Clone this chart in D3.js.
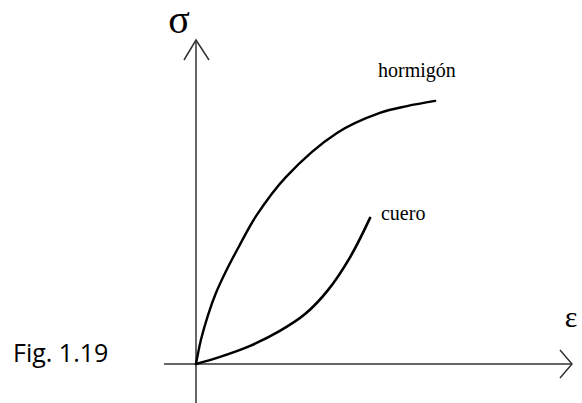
<!DOCTYPE html>
<html>
<head>
<meta charset="utf-8">
<script src="https://cdn.jsdelivr.net/npm/d3@7"></script>
<style>
  body { margin: 0; background: white; }
</style>
</head>
<body>
<div id="container"></div>
<script>
// curve readings (strain / stress in arbitrary units)
let hormigonStrain = [0, 0.13, 0.32, 0.53, 0.80, 1.12, 1.60, 2.39, 3.75, 4.89, 5.61, 6.36];
let hormigonStress = [0, 0.74, 1.51, 2.19, 2.87, 3.58, 4.57, 5.77, 7.13, 7.75, 7.96, 8.12];
let cueroStrain = [0, 0.64, 1.44, 2.23, 2.90, 3.51, 4.10, 4.63];
let cueroStress = [0, 0.22, 0.56, 1.02, 1.54, 2.28, 3.30, 4.51];
let curveNames = ["hormigón", "cuero"];

let w = 582;
let h = 403;

let viz = d3.select("#container")
  .append("svg")
    .attr("width", w)
    .attr("height", h)
    .style("background-color", "white")
;

let xScale = d3.scaleLinear().domain([0, 10]).range([196, 572]);
let yScale = d3.scaleLinear().domain([0, 10]).range([364, 40]);

// axes
let axisColor = "#333";
viz.append("line")
  .attr("x1", xScale(-0.85)).attr("y1", yScale(0))
  .attr("x2", xScale(10)).attr("y2", yScale(0))
  .attr("stroke", axisColor).attr("stroke-width", 1.5);
viz.append("path")
  .attr("d", "M" + (xScale(10) - 12) + "," + (yScale(0) - 14) + "L" + xScale(10) + "," + yScale(0) + "L" + (xScale(10) - 12) + "," + (yScale(0) + 14))
  .attr("fill", "none").attr("stroke", axisColor).attr("stroke-width", 1.5);

viz.append("line")
  .attr("x1", xScale(0)).attr("y1", yScale(-1.2))
  .attr("x2", xScale(0)).attr("y2", yScale(10))
  .attr("stroke", axisColor).attr("stroke-width", 1.5);
viz.append("path")
  .attr("d", "M" + (xScale(0) - 12) + "," + (yScale(10) + 20) + "L" + xScale(0) + "," + yScale(10) + "L" + (xScale(0) + 13) + "," + (yScale(10) + 20))
  .attr("fill", "none").attr("stroke", axisColor).attr("stroke-width", 1.5);

// curves
let line = d3.line()
  .x(function(d){ return xScale(d[0]); })
  .y(function(d){ return yScale(d[1]); })
  .curve(d3.curveCatmullRom.alpha(0.5));

let hormigon = hormigonStrain.map(function(d, i){ return [d, hormigonStress[i]]; });
let cuero = cueroStrain.map(function(d, i){ return [d, cueroStress[i]]; });

viz.append("path")
  .attr("d", line(hormigon))
  .attr("fill", "none").attr("stroke", "black").attr("stroke-width", 2.4)
  .attr("stroke-linecap", "round");
viz.append("path")
  .attr("d", line(cuero))
  .attr("fill", "none").attr("stroke", "black").attr("stroke-width", 2.6)
  .attr("stroke-linecap", "round");

// labels
viz.append("text")
  .text(curveNames[0])
  .attr("x", xScale(4.84))
  .attr("y", yScale(8.86))
  .attr("font-family", "Liberation Serif")
  .attr("font-size", 20)
  .attr("fill", "black");

viz.append("text")
  .text(curveNames[1])
  .attr("x", xScale(4.92))
  .attr("y", yScale(4.44))
  .attr("font-family", "Liberation Serif")
  .attr("font-size", 20)
  .attr("fill", "black");

viz.append("text")
  .text("σ")
  .attr("x", 179)
  .attr("y", 33)
  .attr("text-anchor", "middle")
  .attr("font-family", "Liberation Serif")
  .attr("font-size", 40)
  .attr("fill", "black");

viz.append("text")
  .text("ε")
  .attr("x", 571)
  .attr("y", 327)
  .attr("text-anchor", "middle")
  .attr("font-family", "Liberation Serif")
  .attr("font-size", 30)
  .attr("fill", "black");

viz.append("text")
  .text("Fig. 1.19")
  .attr("x", 13)
  .attr("y", 362)
  .attr("font-family", "Open Sans")
  .attr("font-size", 25)
  .attr("fill", "black");
</script>
</body>
</html>
